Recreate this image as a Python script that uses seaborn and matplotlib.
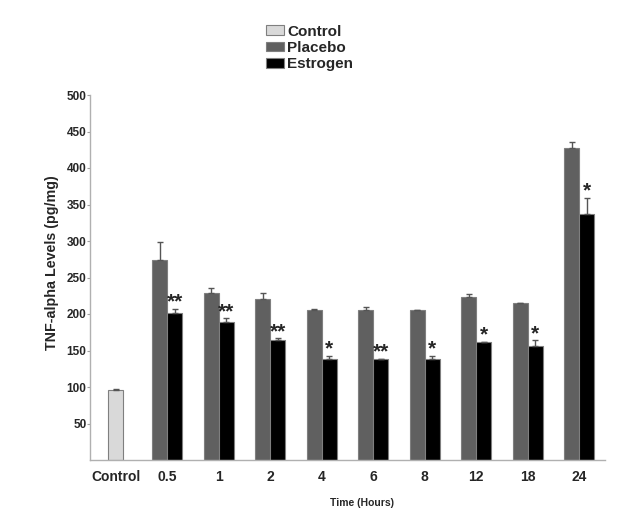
import numpy as np
import pandas as pd
import matplotlib
matplotlib.use('Agg')
import matplotlib.pyplot as plt
import seaborn as sns
from matplotlib.patches import Patch

# valores
categories = ['Control', '0.5', '1', '2', '4', '6', '8', '12', '18', '24']
times = categories[1:]
control_value = 96
control_err = 1
placebo = [274, 229, 221, 205, 205, 205, 223, 215, 428]
placebo_err = [24, 7, 8, 1.5, 4.5, 1, 4.5, 0, 7]
estrogen = [202, 189, 165, 139, 139, 139, 162, 156, 337]
estrogen_err = [5, 5, 1.5, 4, 0, 4, 0, 8, 22]
stars = ['**', '**', '**', '*', '**', '*', '*', '*', '*']
yticks = list(range(50, 501, 50))

colors = {'Control': '#d9d9d9', 'Placebo': '#606060', 'Estrogen': '#000000'}

sns.set_style('white')
plt.rcParams['font.family'] = ['Liberation Sans', 'DejaVu Sans']

df = pd.DataFrame({
    'time': times * 2,
    'group': ['Placebo'] * len(times) + ['Estrogen'] * len(times),
    'value': placebo + estrogen,
})
df_ctrl = pd.DataFrame({'time': ['Control'], 'value': [control_value]})

fig = plt.figure(figsize=(6.38, 5.2), dpi=100)
ax = fig.add_axes([90 / 638, 60 / 520, 515 / 638, 365 / 520])

sns.barplot(data=df, x='time', y='value', hue='group', order=categories,
            hue_order=['Placebo', 'Estrogen'], palette=colors, width=0.575,
            errorbar=None, edgecolor='#7f7f7f', linewidth=0.8, legend=False, ax=ax)
sns.barplot(data=df_ctrl, x='time', y='value', order=categories, color=colors['Control'],
            saturation=1, width=0.29, errorbar=None, edgecolor='#7f7f7f', linewidth=0.8, ax=ax)

conts = list(ax.containers)
plac_bars = sorted(conts[0], key=lambda b: b.get_x())
estr_bars = sorted(conts[1], key=lambda b: b.get_x())
ctrl_bars = list(conts[2])

def draw_err(bars, errs):
    xs = [b.get_x() + b.get_width() / 2 for b in bars]
    ys = [b.get_height() for b in bars]
    ax.errorbar(xs, ys, yerr=[np.zeros(len(errs)), errs], fmt='none',
                ecolor='#555555', elinewidth=1, capsize=2, capthick=1, zorder=1)

draw_err(plac_bars, placebo_err)
draw_err(estr_bars, estrogen_err)
draw_err(ctrl_bars, [control_err])

# asteriscos de significância
for b, e, s in zip(estr_bars, estrogen_err, stars):
    ax.annotate(s, (b.get_x() + b.get_width() / 2, b.get_height() + e),
                xytext=(0, 1), textcoords='offset points', ha='center', va='baseline',
                fontsize=15, fontweight='bold')

ax.set_ylim(0, 500)
ax.set_xlim(-0.5, 9.5)
ax.set_yticks(yticks)
ax.set_yticklabels([str(t) for t in yticks], fontsize=8.5, fontweight='bold')
ax.set_xticks(range(len(categories)))
ax.set_xticklabels(categories, fontsize=10, fontweight='bold')
ax.set_xticks(np.arange(-0.5, 10, 1), minor=True)
ax.tick_params(axis='x', which='major', length=0, pad=7)
ax.tick_params(axis='x', which='minor', length=3, color='#a0a0a0', width=0.8)
ax.tick_params(axis='y', length=2, pad=0.5, color='#a0a0a0', width=0.8, left=True)

for sp in ['top', 'right']:
    ax.spines[sp].set_visible(False)
for sp in ['left', 'bottom']:
    ax.spines[sp].set_color('#b0b0b0')
    ax.spines[sp].set_linewidth(1)

ax.set_ylabel('TNF-alpha Levels (pg/mg)', fontsize=10.3, fontweight='bold')
ax.yaxis.set_label_coords(-0.06, 0.541)
ax.set_xlabel('Time (Hours)', fontsize=7.5, fontweight='bold')
ax.xaxis.set_label_coords(0.528, -0.104)

handles = [Patch(facecolor=colors[k], edgecolor='#7f7f7f', linewidth=0.8, label=k)
           for k in ['Control', 'Placebo', 'Estrogen']]
fig.legend(handles=handles, loc='upper left', bbox_to_anchor=(258 / 638, 1 - 17 / 520),
           frameon=False, prop={'weight': 'bold', 'size': 11}, borderpad=0,
           handlelength=1.2, handleheight=0.6, handletextpad=0.2, labelspacing=0.15)

fig.savefig('out.png', dpi=100)
